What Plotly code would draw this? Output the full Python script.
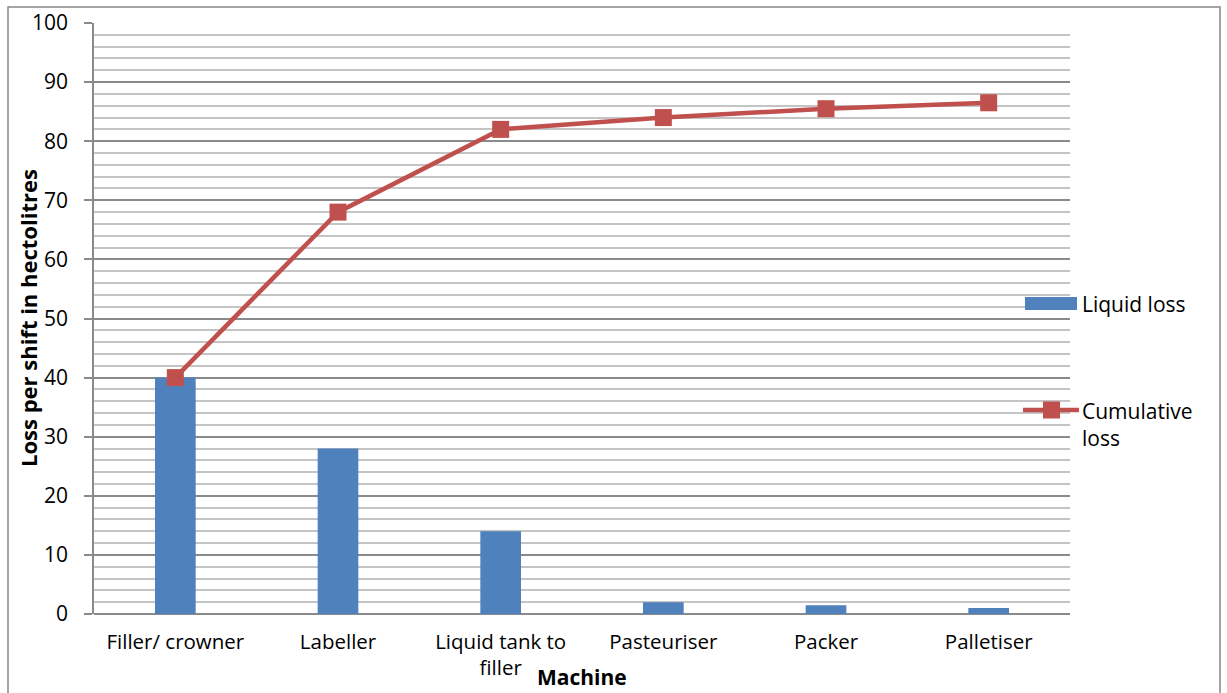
import plotly.graph_objects as go

machines = ["Filler/ crowner", "Labeller", "Liquid tank to<br>filler",
            "Pasteuriser", "Packer", "Palletiser"]
liquid_loss = [40, 28, 14, 2, 1.5, 1]
cumulative_loss = [40, 68, 82, 84, 85.5, 86.5]

BAR_BLUE = "#4F81BD"
LINE_RED = "#C0504D"
FONT = "Open Sans"

# plot area in pixels: x 94..1070, y 23..614
PX_L, PX_R, PX_T, PX_B = 94, 1070, 23, 614


def px_x(px):
    return (px - PX_L) / (PX_R - PX_L)


def px_y(py):
    return (PX_B - py) / (PX_B - PX_T)


fig = go.Figure()
fig.add_trace(go.Bar(
    x=machines, y=liquid_loss, name="Liquid loss",
    marker=dict(color=BAR_BLUE, line=dict(width=0)),
    width=0.25, showlegend=False,
))
fig.add_trace(go.Scatter(
    x=machines, y=cumulative_loss, name="Cumulative loss",
    mode="lines+markers",
    line=dict(color=LINE_RED, width=4.5),
    marker=dict(symbol="square", size=17, color=LINE_RED),
    showlegend=False,
))

# legend on the right
fig.add_shape(type="rect", xref="paper", yref="paper",
              x0=px_x(1025), x1=px_x(1077), y0=px_y(310), y1=px_y(297),
              fillcolor=BAR_BLUE, line=dict(width=0))
fig.add_shape(type="line", xref="paper", yref="paper",
              x0=px_x(1023), x1=px_x(1079), y0=px_y(410), y1=px_y(410),
              line=dict(color=LINE_RED, width=4.5))
fig.add_shape(type="rect", xref="paper", yref="paper",
              x0=px_x(1043), x1=px_x(1060), y0=px_y(418.5), y1=px_y(401.5),
              fillcolor=LINE_RED, line=dict(width=0))
fig.add_annotation(text="Liquid loss", xref="paper", yref="paper",
                   x=px_x(1080), y=px_y(304),
                   xanchor="left", yanchor="middle", showarrow=False,
                   font=dict(family=FONT, size=21, color="black"))
fig.add_annotation(text="Cumulative<br>loss", xref="paper", yref="paper",
                   x=px_x(1080), y=px_y(424),
                   xanchor="left", yanchor="middle", showarrow=False, align="left",
                   font=dict(family=FONT, size=21, color="black"))

# axis titles
fig.add_annotation(text="<b>Loss per shift in hectolitres</b>", xref="paper", yref="paper",
                   x=px_x(28), y=px_y(318), textangle=-90,
                   xanchor="center", yanchor="middle", showarrow=False,
                   font=dict(family=FONT, size=22, color="black"))
fig.add_annotation(text="<b>Machine</b>", xref="paper", yref="paper",
                   x=px_x(582), y=px_y(677),
                   xanchor="center", yanchor="middle", showarrow=False,
                   font=dict(family=FONT, size=21, color="black"))

# outer chart frame
fig.add_shape(type="rect", xref="paper", yref="paper",
              x0=px_x(8), x1=px_x(1220), y0=px_y(700), y1=px_y(7),
              line=dict(color="#888888", width=1.5), fillcolor="rgba(0,0,0,0)",
              layer="below")

fig.update_layout(
    width=1227, height=693,
    margin=dict(l=PX_L, r=1227 - PX_R, t=PX_T, b=693 - PX_B),
    paper_bgcolor="white", plot_bgcolor="white",
    font=dict(family=FONT, size=20, color="black"),
    xaxis=dict(
        showgrid=False, showline=False, ticks="",
        ticklabelstandoff=13,
        tickfont=dict(family=FONT, size=20.5, color="black"),
        automargin=False,
    ),
    yaxis=dict(
        range=[0, 100], dtick=10,
        showgrid=True, gridcolor="#8a8a8a", gridwidth=1.5,
        minor=dict(dtick=2, showgrid=True, gridcolor="#c4c4c4", gridwidth=1.5),
        showline=True, linecolor="#8a8a8a", linewidth=1.5,
        ticks="outside", ticklen=8, tickcolor="#8a8a8a", tickwidth=1.5,
        ticklabelstandoff=12,
        zeroline=True, zerolinecolor="#8a8a8a", zerolinewidth=2,
        tickfont=dict(family=FONT, size=21, color="black"),
        automargin=False,
    ),
)

fig.write_html("out.html")
